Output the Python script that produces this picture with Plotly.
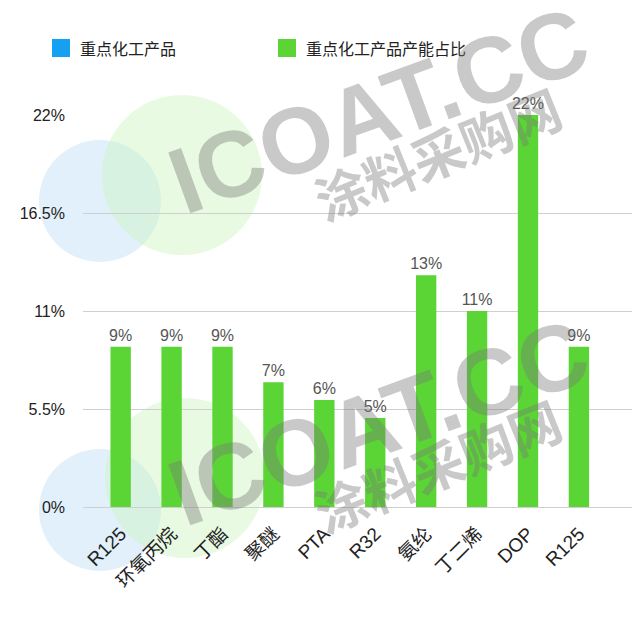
import plotly.graph_objects as go

# ---- data ----
categories = ["R125", "环氧丙烷", "丁酯", "聚醚", "PTA", "R32", "氨纶", "丁二烯", "DOP", "R125"]
share_values = [9, 9, 9, 7, 6, 5, 13, 11, 22, 9]
y_tick_vals = [0, 5.5, 11, 16.5, 22]
y_tick_text = ["0%", "5.5%", "11%", "16.5%", "22%"]
legend_names = ["重点化工产品", "重点化工产品产能占比"]
legend_colors = ["#16a0f2", "#5ad535"]
watermark_latin = "ICOAT.CC"
watermark_cn = "涂料采购网"

OFF = 8  # page body margin
W, H = 640 - OFF, 619 - OFF
PLOT_X0, PLOT_X1, PLOT_Y0, PLOT_Y1 = 83, 640, 115, 507  # page pixels
L = PLOT_X0 - OFF
R = 0
T = PLOT_Y0 - OFF
B = (H + OFF) - PLOT_Y1
PW, PH = PLOT_X1 - PLOT_X0, PLOT_Y1 - PLOT_Y0

def px(x):
    return (x - PLOT_X0) / PW

def py(y):
    return (PLOT_Y1 - y) / PH

FONT = "Liberation Sans, Noto Sans CJK SC, sans-serif"

fig = go.Figure()
fig.add_trace(go.Bar(
    x=list(range(len(categories))),
    y=share_values,
    marker=dict(color=legend_colors[1], line=dict(width=0)),
    text=[f"{v}%" for v in share_values],
    textposition="outside",
    constraintext="none",
    textfont=dict(family=FONT, size=16, color="#555555"),
    cliponaxis=False,
    showlegend=False,
))

shapes = []
for cx, cy, r, col in [(100, 201, 61, "rgba(200,228,248,0.55)"),
                       (182, 175, 80, "rgba(205,245,190,0.45)"),
                       (100, 510, 61, "rgba(200,228,248,0.55)"),
                       (185, 478, 80, "rgba(205,245,190,0.45)")]:
    shapes.append(dict(type="circle", xref="paper", yref="paper",
                       x0=px(cx - r), x1=px(cx + r), y0=py(cy + r), y1=py(cy - r),
                       fillcolor=col, line=dict(width=0), layer="below"))

for x0, col in [(52, legend_colors[0]), (278, legend_colors[1])]:
    shapes.append(dict(type="rect", xref="paper", yref="paper",
                       x0=px(x0), x1=px(x0 + 18), y0=py(57), y1=py(39),
                       fillcolor=col, line=dict(width=0)))

annotations = []
for x0, name in [(78, legend_names[0]), (304, legend_names[1])]:
    annotations.append(dict(xref="paper", yref="paper", x=px(x0), y=py(48),
                            xanchor="left", yanchor="middle", showarrow=False,
                            text=name, font=dict(family="Noto Sans CJK SC", size=16, color="#222222")))

for dy in [0, 312]:
    annotations.append(dict(xref="paper", yref="paper", x=px(378), y=py(110 + dy),
                            xanchor="center", yanchor="middle", showarrow=False,
                            text="<b>" + watermark_latin + "</b>", textangle=-20,
                            font=dict(family="Liberation Sans", size=94, color="rgba(120,120,120,0.40)")))
    annotations.append(dict(xref="paper", yref="paper", x=px(437), y=py(152 + dy),
                            xanchor="center", yanchor="middle", showarrow=False,
                            text="<b>" + watermark_cn + "</b>", textangle=-22,
                            font=dict(family="Noto Sans CJK SC", size=52, color="rgba(120,120,120,0.40)")))

fig.update_layout(
    width=W, height=H,
    margin=dict(l=L, r=R, t=T, b=B, pad=0),
    paper_bgcolor="white", plot_bgcolor="rgba(0,0,0,0)",
    bargap=0.6,
    showlegend=False,
    shapes=shapes,
    annotations=annotations,
    font=dict(family=FONT),
)
fig.update_xaxes(
    range=[-0.74, 10.2],
    tickmode="array", tickvals=list(range(len(categories))), ticktext=categories,
    tickangle=-45, tickfont=dict(family=FONT, size=19, color="#222222"),
    showgrid=False, zeroline=False, showline=False, ticks="",
    ticklabelstandoff=11,
)
fig.update_yaxes(
    range=[0, 22],
    tickmode="array", tickvals=y_tick_vals, ticktext=y_tick_text,
    tickfont=dict(family=FONT, size=16, color="#222222"),
    showgrid=True, gridcolor="#cfcfcf", gridwidth=1,
    zeroline=True, zerolinecolor="#cfcfcf", zerolinewidth=1,
    showline=False, ticks="", ticklabelstandoff=17,
)

fig.write_html("out.html")
